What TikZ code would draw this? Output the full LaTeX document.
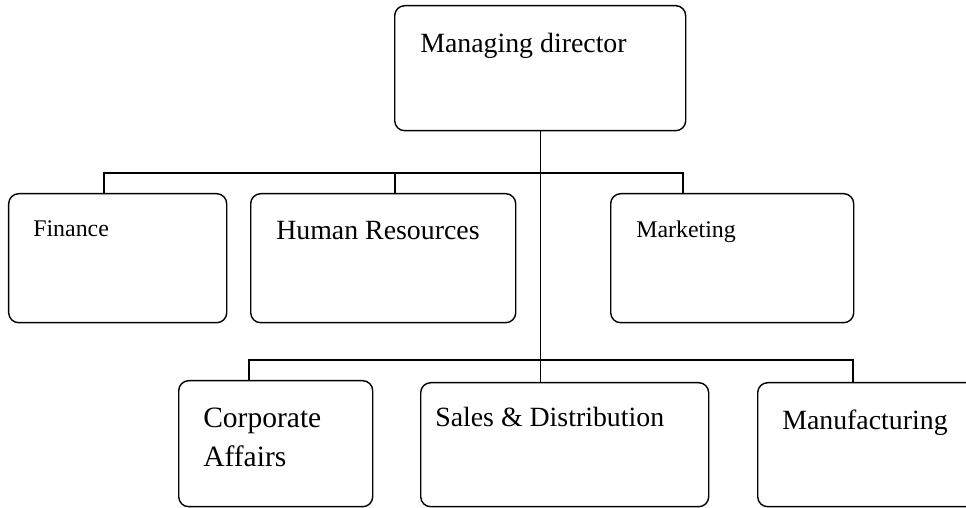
\documentclass[tikz,border=0pt]{standalone}
\usepackage{fontspec}
\setmainfont{Liberation Serif}
\begin{document}
\begin{tikzpicture}[
    unit/.style={draw, line width=1pt, rounded corners=0.25cm, inner sep=0pt, anchor=north west},
    title/.style={anchor=base west, inner sep=0pt, align=left, font=\fontsize{19.8}{28.4}\selectfont},
    smalltitle/.style={title, font=\fontsize{17}{20}\selectfont},
    link/.style={line width=0.9pt}]
	\useasboundingbox (0,0) rectangle (24.15,12.7);
	\node[unit, minimum width=7.275cm, minimum height=3.125cm] (md) at (9.85,12.575) {};
	\node[unit, minimum width=5.45cm, minimum height=3.225cm] (fin) at (0.2,7.875) {};
	\node[unit, minimum width=6.625cm, minimum height=3.225cm] (hr) at (6.25,7.875) {};
	\node[unit, minimum width=6.075cm, minimum height=3.225cm] (mkt) at (15.25,7.875) {};
	\node[unit, minimum width=4.85cm, minimum height=3.15cm] (corp) at (4.45,3.2) {};
	\node[unit, minimum width=7.2cm, minimum height=3.1cm] (sales) at (10.5,3.15) {};
	\node[unit, minimum width=5.7cm, minimum height=3.1cm] (manu) at (18.925,3.15) {};
	\node[title] (mdText) at ([shift={(0.65,-1.2)}]md.north west) {Managing director};
	\node[smalltitle] (finText) at ([shift={(0.625,-1.1)}]fin.north west) {Finance};
	\node[title] (hrText) at ([shift={(0.65,-1.175)}]hr.north west) {Human Resources};
	\node[smalltitle] (mktText) at ([shift={(0.65,-1.125)}]mkt.north west) {Marketing};
	% base of a two-line node sits on its last line
	\node[title, font=\fontsize{21}{28.4}\selectfont] (corpText) at ([shift={(0.625,-2.175)}]corp.north west) {Corporate\\Affairs};
	\node[title] (salesText) at ([shift={(0.375,-1.125)}]sales.north west) {Sales \& Distribution};
	\node[title] (manuText) at ([shift={(0.625,-1.2)}]manu.north west) {Manufacturing};
	\coordinate (finDrop) at (2.6,8.375);
	\coordinate (hrDrop) at (9.875,8.375);
	\coordinate (mktDrop) at (17.075,8.375);
	\coordinate (corpDrop) at (6.225,3.7);
	\coordinate (manuDrop) at (21.325,3.7);
	\draw[link] (md.south) -- (md.south |- sales.north);
	\draw[link] (finDrop |- fin.north) -- (finDrop) -- (mktDrop) -- (mktDrop |- mkt.north);
	\draw[link] (hrDrop) -- (hrDrop |- hr.north);
	\draw[link] (corpDrop |- corp.north) -- (corpDrop) -- (manuDrop) -- (manuDrop |- manu.north);
\end{tikzpicture}
\end{document}
